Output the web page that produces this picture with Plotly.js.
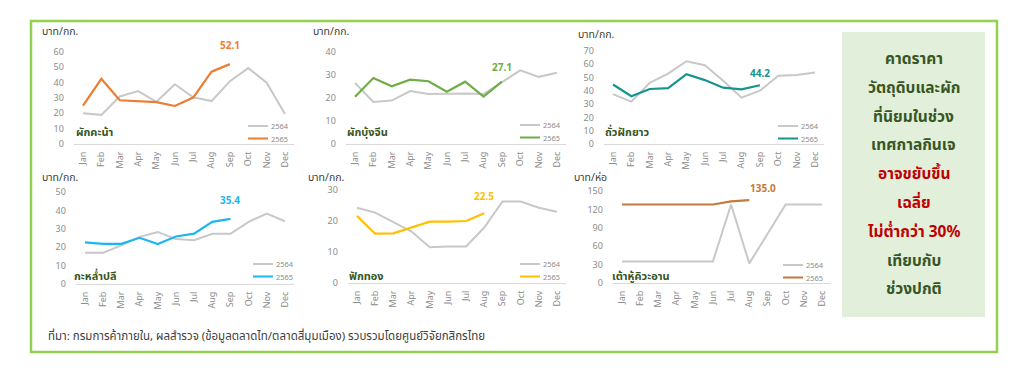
<!DOCTYPE html>
<html>
<head>
<meta charset="utf-8">
<script src="https://cdn.plot.ly/plotly-3.0.1.min.js"></script>
<style>html,body{margin:0;padding:0;background:#fff;}#chart{width:1020px;height:374px;}</style>
</head>
<body>
<div id="chart"></div>
<script>
// ---------- DATA ----------
const months = ['Jan','Feb','Mar','Apr','May','Jun','Jul','Aug','Sep','Oct','Nov','Dec'];
const seriesNames = ['2564','2565'];

const kale2564 = [20, 19, 31, 34.5, 27.5, 39, 30.5, 28, 41, 49.5, 40, 19.5];
const kale2565 = [25, 42.5, 28.5, 27.7, 27.3, 24.8, 30.3, 47.2, 52.1];

const morningGlory2564 = [26.5, 18.3, 18.9, 23, 21.7, 22, 22, 21.7, 27, 32, 29.2, 31];
const morningGlory2565 = [20.5, 28.7, 25.1, 28, 27.3, 22.7, 27.1, 20.6, 27.1];

const longBean2564 = [37.6, 31.9, 46, 53, 62.3, 59.3, 47.6, 34.9, 40.1, 51.3, 52, 53.8];
const longBean2565 = [44.8, 35.9, 41.4, 42.1, 52.6, 48.1, 42.4, 41.1, 44.2];

const cabbage2564 = [17, 17, 21, 25.6, 28.3, 24.4, 23.8, 27.3, 27.3, 33.8, 38.3, 34.1];
const cabbage2565 = [22.6, 21.8, 21.8, 25.1, 21.7, 25.8, 27.4, 33.8, 35.4];

const pumpkin2564 = [24.3, 22.7, 19.6, 16.6, 11.5, 11.8, 11.8, 17.9, 26.3, 26.3, 24.3, 23];
const pumpkin2565 = [21.6, 15.9, 16, 18, 19.8, 19.8, 20, 22.5];

const tofu2564 = [35, 35, 35, 35, 35, 35, 128, 32, 80, 128, 128, 128];
const tofu2565 = [128, 128, 128, 128, 128, 128, 133, 135];

const itemNames = ['ผักคะน้า','ผักบุ้งจีน','ถั่วฝักยาว','กะหล่ำปลี','ฟักทอง','เต้าหู้คิวะอาน'];
const unitLabels = ['บาท/กก.','บาท/กก.','บาท/กก.','บาท/กก.','บาท/กก.','บาท/ห่อ'];
const lastLabels = ['52.1','27.1','44.2','35.4','22.5','135.0'];
const yMax = [60, 40, 70, 50, 30, 150];
const yStep = [10, 10, 10, 10, 10, 30];

const sideLines = ['คาดราคา','วัตถุดิบและผัก','ที่นิยมในช่วง','เทศกาลกินเจ','อาจขยับขึ้น','เฉลี่ย','ไม่ต่ำกว่า 30%','เทียบกับ','ช่วงปกติ'];
const sourceText = 'ที่มา: กรมการค้าภายใน, ผลสำรวจ (ข้อมูลตลาดไท/ตลาดสี่มุมเมือง) รวบรวมโดยศูนย์วิจัยกสิกรไทย';

const data2564 = [kale2564, morningGlory2564, longBean2564, cabbage2564, pumpkin2564, tofu2564];
const data2565 = [kale2565, morningGlory2565, longBean2565, cabbage2565, pumpkin2565, tofu2565];

// ---------- STYLE / LAYOUT ----------
const W = 1020, H = 374;
const FONT = 'Noto Sans, Noto Sans Thai, Tahoma, Loma, sans-serif';
const colors = ['#ED7D31', '#70AD47', '#14968E', '#1DB6F0', '#FFC000', '#C47A3A'];
const gray = '#C8C8C8';
const darkGreen = '#375623';

// pixel geometry for each panel: [x of Jan, x of Dec, y of zero, y of max]
const geo = [
  [83, 285, 144, 52],
  [355, 557, 144, 52],
  [613, 815, 144, 51],
  [85, 285, 284, 192],
  [357, 557, 283, 190],
  [622, 822, 283, 191]
];
const unitPos = [[40, 31], [311, 31], [576, 34], [40, 177], [306, 177], [572, 177]];
const itemPos = [[74, 131], [345, 131], [603, 131], [72, 275], [347, 275], [610, 275]];
const legPos = [[248, 126], [520, 125], [778, 126], [253, 264], [520, 264], [783, 265]];
const labelShift = [[0, 16], [0, 12], [0, 9], [0, 16], [0, 14], [14, 9]];

const px = x => x / W;
const py = y => 1 - y / H;

const traces = [];
const layout = {
  width: W, height: H,
  margin: {l: 0, r: 0, t: 0, b: 0},
  paper_bgcolor: '#ffffff',
  plot_bgcolor: 'rgba(0,0,0,0)',
  showlegend: false,
  font: {family: FONT, color: '#595959'},
  shapes: [],
  annotations: []
};

// outer frame
layout.shapes.push({type: 'rect', xref: 'paper', yref: 'paper',
  x0: px(31), x1: px(997), y0: py(352), y1: py(21),
  line: {color: '#92D050', width: 2.5}, fillcolor: 'rgba(0,0,0,0)'});
// side box
layout.shapes.push({type: 'rect', xref: 'paper', yref: 'paper',
  x0: px(842), x1: px(985), y0: py(317), y1: py(32),
  line: {width: 0}, fillcolor: '#E2EFDA'});

for (let i = 0; i < 6; i++) {
  const n = i === 0 ? '' : String(i + 1);
  const xa = 'x' + n, ya = 'y' + n;
  const [xJan, xDec, y0, yTop] = geo[i];
  const step = (xDec - xJan) / 11;
  const d0 = xJan - step / 2, d1 = xDec + step / 2;

  traces.push({
    x: months, y: data2564[i], type: 'scatter', mode: 'lines', name: seriesNames[0],
    line: {color: gray, width: 2}, xaxis: xa, yaxis: ya, hoverinfo: 'skip'
  });
  traces.push({
    x: months.slice(0, data2565[i].length), y: data2565[i], type: 'scatter', mode: 'lines', name: seriesNames[1],
    line: {color: colors[i], width: 2.2}, xaxis: xa, yaxis: ya, hoverinfo: 'skip'
  });

  layout['xaxis' + n] = {
    domain: [px(d0), px(d1)], anchor: ya,
    type: 'category', categoryorder: 'array', categoryarray: months,
    range: [-0.5, 11.5], fixedrange: true,
    showgrid: false, zeroline: false,
    showline: true, linecolor: '#D9D9D9', linewidth: 1,
    ticks: '', tickangle: -90,
    tickfont: {size: 9, color: '#8C8C8C', family: FONT},
    ticklabelstandoff: 3
  };
  layout['yaxis' + n] = {
    domain: [py(y0), py(yTop)], anchor: xa,
    range: [0, yMax[i]], fixedrange: true,
    tick0: 0, dtick: yStep[i],
    showgrid: false, zeroline: false, showline: false,
    ticks: '', tickfont: {size: 9, color: '#8C8C8C', family: FONT},
    ticklabelstandoff: 9
  };

  // unit label
  layout.annotations.push({xref: 'paper', yref: 'paper', x: px(unitPos[i][0]), y: py(unitPos[i][1]),
    xanchor: 'left', yanchor: 'middle', showarrow: false, text: unitLabels[i],
    font: {size: 10.5, color: '#404040', family: FONT}});
  // item name
  layout.annotations.push({xref: 'paper', yref: 'paper', x: px(itemPos[i][0]), y: py(itemPos[i][1]),
    xanchor: 'left', yanchor: 'middle', showarrow: false, text: '<b>' + itemNames[i] + '</b>',
    font: {size: 11, color: darkGreen, family: FONT}});
  // last value label at the last data point
  const last = data2565[i].length - 1;
  layout.annotations.push({xref: xa, yref: ya, x: months[last], y: data2565[i][last],
    xanchor: 'center', yanchor: 'bottom', showarrow: false,
    xshift: labelShift[i][0], yshift: labelShift[i][1] - 6,
    text: '<b>' + lastLabels[i] + '</b>',
    font: {size: 10, color: colors[i], family: FONT}});

  // legend (line samples + text)
  const [lx, ly] = legPos[i];
  [gray, colors[i]].forEach((c, k) => {
    const yy = ly + k * 12.5;
    layout.shapes.push({type: 'line', xref: 'paper', yref: 'paper',
      x0: px(lx), x1: px(lx + 20), y0: py(yy), y1: py(yy),
      line: {color: c, width: 2}});
    layout.annotations.push({xref: 'paper', yref: 'paper', x: px(lx + 21), y: py(yy),
      xanchor: 'left', yanchor: 'middle', showarrow: false, text: seriesNames[k],
      font: {size: 7.5, color: '#8C8C8C', family: FONT}});
  });
}

// side text
sideLines.forEach((t, k) => {
  const red = k >= 4 && k <= 6;
  layout.annotations.push({xref: 'paper', yref: 'paper', x: px(913.5), y: py(58 + k * 28.8),
    xanchor: 'center', yanchor: 'middle', showarrow: false, text: '<b>' + t + '</b>',
    font: {size: 15.5, color: red ? '#C00000' : darkGreen, family: FONT}});
});

// source
layout.annotations.push({xref: 'paper', yref: 'paper', x: px(46), y: py(335),
  xanchor: 'left', yanchor: 'middle', showarrow: false, text: sourceText,
  font: {size: 11.5, color: '#404040', family: FONT}});

Plotly.newPlot('chart', traces, layout, {staticPlot: true, displayModeBar: false});
</script>
</body>
</html>
